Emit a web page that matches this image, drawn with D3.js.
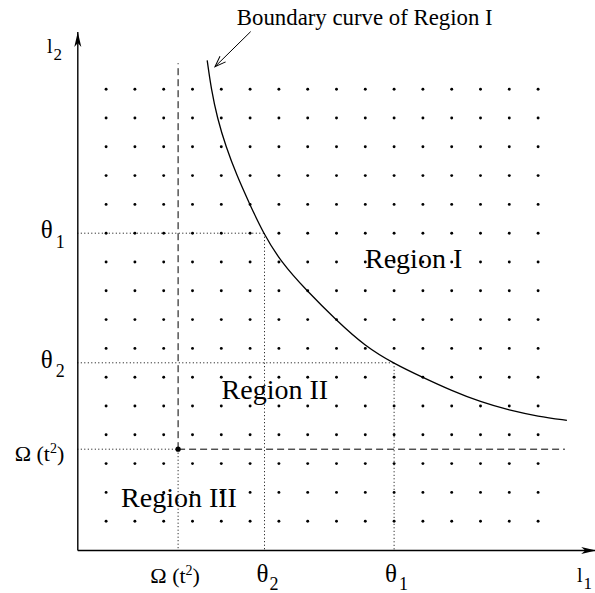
<!DOCTYPE html>
<html>
<head>
<meta charset="utf-8">
<script src="https://cdn.jsdelivr.net/npm/d3@7"></script>
<style>
  body { margin: 0; background: #fff; }
  svg text { font-family: "Liberation Serif", "Times New Roman", serif; fill: #000; }
</style>
</head>
<body>
<div id="graphic"></div>
<script>
// grid of lattice points (both axes, in grid units)
const gridCols = d3.range(1, 17);
const gridRows = d3.range(1, 17);

// thresholds on the axes
const omega = 3.5, theta2 = 6.5, theta1 = 11;

// boundary curve of Region I
const curveX = [4.51, 4.65, 4.86, 5.16, 5.54, 5.99, 6.46, 7.07, 7.95, 9.0, 10.0, 11.0, 12.0, 13.0, 14.0, 15.0, 16.0, 17.0];
const curveY = [17.0, 16.0, 15.0, 14.0, 13.0, 12.0, 11.0, 10.0, 9.02, 7.97, 7.07, 6.47, 5.99, 5.53, 5.14, 4.85, 4.64, 4.5];

// region labels
const regionNames = ["Region I", "Region II", "Region III"];
const regionX = [9.99, 5.01, 1.52];
const regionY = [9.79, 5.24, 1.5];

const graphic = d3.select('#graphic');
const width = 595, height = 593;

const svg = graphic.append('svg')
  .attr('width', width)
  .attr('height', height);

// scales: 28.8px per grid unit
const x = d3.scaleLinear().domain([0, 18]).range([77.3, 77.3 + 18 * 28.8]);
const y = d3.scaleLinear().domain([0, 18]).range([550, 550 - 18 * 28.8]);

// markers
const defs = svg.append('defs');
defs.append('marker')
  .attr('id', 'axisArrow')
  .attr('markerUnits', 'userSpaceOnUse')
  .attr('markerWidth', 20).attr('markerHeight', 10)
  .attr('refX', 0).attr('refY', 0)
  .attr('viewBox', '-16 -5 17 10')
  .attr('orient', 'auto')
  .append('path')
  .attr('d', 'M0,0L-15,-3.5L-11,0L-15,3.5Z')
  .attr('fill', '#000');

defs.append('marker')
  .attr('id', 'openArrow')
  .attr('markerUnits', 'userSpaceOnUse')
  .attr('markerWidth', 14).attr('markerHeight', 10)
  .attr('refX', 0).attr('refY', 0)
  .attr('viewBox', '-12 -5 13 10')
  .attr('orient', 'auto')
  .append('path')
  .attr('d', 'M-11,-4L0,0L-11,4')
  .attr('fill', 'none')
  .attr('stroke', '#000')
  .attr('stroke-width', 1);

// lattice dots
const pts = gridRows.flatMap(r => gridCols.map(c => ({c: c, r: r})));
svg.append('g')
  .selectAll('circle')
  .data(pts)
  .join('circle')
  .attr('cx', d => x(d.c))
  .attr('cy', d => y(d.r))
  .attr('r', 1.45)
  .attr('fill', '#000');

// dotted guides
const dotted = [
  [[0, theta1], [theta2, theta1]],
  [[theta2, theta1], [theta2, 0]],
  [[0, theta2], [theta1, theta2]],
  [[theta1, theta2], [theta1, 0]],
  [[0, omega], [omega, omega]],
  [[omega, omega], [omega, 0]]
];
const line = d3.line().x(d => x(d[0])).y(d => y(d[1]));

svg.append('g')
  .selectAll('path')
  .data(dotted)
  .join('path')
  .attr('d', line)
  .attr('fill', 'none')
  .attr('stroke', '#000')
  .attr('stroke-width', 1)
  .attr('stroke-dasharray', '1,2.5');

// dashed lines from Omega(t^2)
const dashed = [
  [[omega, omega], [omega, 16.9]],
  [[omega, omega], [16.93, omega]]
];
svg.append('g')
  .selectAll('path')
  .data(dashed)
  .join('path')
  .attr('d', line)
  .attr('fill', 'none')
  .attr('stroke', '#000')
  .attr('stroke-width', 1)
  .attr('stroke-dasharray', '7,4');

svg.append('circle')
  .attr('cx', x(omega)).attr('cy', y(omega))
  .attr('r', 2.6)
  .attr('fill', '#000');

// boundary curve
svg.append('path')
  .datum(d3.zip(curveX, curveY))
  .attr('d', d3.line().curve(d3.curveBasis).x(d => x(d[0])).y(d => y(d[1])))
  .attr('fill', 'none')
  .attr('stroke', '#000')
  .attr('stroke-width', 1.3);

// axes
svg.append('g')
  .attr('transform', 'translate(0,' + y(0) + ')')
  .call(d3.axisBottom(x).tickValues([]).tickSizeOuter(0))
  .select('.domain')
  .attr('stroke-width', 1.4)
  .attr('marker-end', 'url(#axisArrow)');

svg.append('g')
  .attr('transform', 'translate(' + x(0) + ',0)')
  .call(d3.axisLeft(y).tickValues([]).tickSizeOuter(0))
  .select('.domain')
  .attr('stroke-width', 1.4)
  .attr('marker-end', 'url(#axisArrow)');

// label helper: base text with optional subscript
function label(g, px, py, anchor, parts, size) {
  const t = g.append('text')
    .attr('x', px).attr('y', py)
    .attr('text-anchor', anchor)
    .style('font-size', size + 'px');
  parts.forEach(p => {
    const s = t.append('tspan').text(p.text);
    if (p.sub) s.attr('dy', p.dy).style('font-size', p.size + 'px');
    if (p.dx) s.attr('dx', p.dx);
  });
  return t;
}

function omegaLabel(g, px, py, anchor) {
  const t = g.append('text')
    .attr('x', px).attr('y', py)
    .attr('text-anchor', anchor)
    .style('font-size', '22px');
  t.append('tspan').text('Ω (t');
  t.append('tspan').attr('dy', -8).style('font-size', '14px').text('2');
  t.append('tspan').attr('dy', 8).text(')');
}

const labels = svg.append('g');

// x-axis tick labels
omegaLabel(labels, x(omega) - 3, 583, 'middle');
label(labels, x(theta2) - 8, 582, 'start',
  [{text: 'θ'}, {text: '2', sub: true, dy: 8, size: 18, dx: 1}], 25);
label(labels, x(theta1) - 9, 582, 'start',
  [{text: 'θ'}, {text: '1', sub: true, dy: 8, size: 18, dx: 2}], 25);

// y-axis tick labels
omegaLabel(labels, x(0) - 13, y(omega) + 12, 'end');
label(labels, 40.7, y(theta1) + 4.5, 'start',
  [{text: 'θ'}, {text: '1', sub: true, dy: 10, size: 18, dx: 3}], 25);
label(labels, 40.7, y(theta2) + 5, 'start',
  [{text: 'θ'}, {text: '2', sub: true, dy: 9, size: 18, dx: 3}], 25);

// axis titles
label(labels, 47, 53, 'start',
  [{text: 'l'}, {text: '2', sub: true, dy: 7, size: 17, dx: 1}], 20);
label(labels, 577, 582, 'start',
  [{text: 'l'}, {text: '1', sub: true, dy: 7, size: 17, dx: 1}], 20);

// region labels
labels.selectAll('text.region')
  .data(d3.zip(regionNames, regionX, regionY))
  .join('text')
  .attr('class', 'region')
  .attr('x', d => x(d[1]))
  .attr('y', d => y(d[2]))
  .style('font-size', '28px')
  .text(d => d[0]);

// annotation for the boundary curve
labels.append('text')
  .attr('x', x(5.54)).attr('y', y(18.23))
  .style('font-size', '22.8px')
  .text('Boundary curve of Region I');

svg.append('path')
  .datum([[6.02, 18.0], [4.78, 16.78]])
  .attr('d', line)
  .attr('fill', 'none')
  .attr('stroke', '#000')
  .attr('stroke-width', 1)
  .attr('marker-end', 'url(#openArrow)');
</script>
</body>
</html>
